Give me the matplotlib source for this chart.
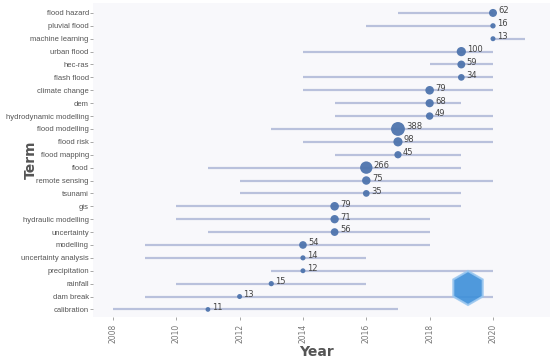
import matplotlib.pyplot as plt
import numpy as np
from matplotlib.patches import RegularPolygon

terms = ['flood hazard', 'pluvial flood', 'machine learning', 'urban flood', 'hec-ras',
         'flash flood', 'climate change', 'dem', 'hydrodynamic modelling', 'flood modelling',
         'flood risk', 'flood mapping', 'flood', 'remote sensing', 'tsunami', 'gis',
         'hydraulic modelling', 'uncertainty', 'modelling', 'uncertainty analysis',
         'precipitation', 'rainfall', 'dam break', 'calibration']
start_year = [2017, 2016, 2020, 2014, 2018, 2014, 2014, 2015, 2015, 2013, 2014, 2015, 2011,
              2012, 2012, 2010, 2010, 2011, 2009, 2009, 2013, 2010, 2009, 2008]
end_year = [2020, 2020, 2021, 2020, 2020, 2020, 2020, 2019, 2020, 2020, 2020, 2019, 2019,
            2020, 2019, 2019, 2018, 2018, 2018, 2016, 2020, 2016, 2020, 2017]
median_year = [2020, 2020, 2020, 2019, 2019, 2019, 2018, 2018, 2018, 2017, 2017, 2017, 2016,
               2016, 2016, 2015, 2015, 2015, 2014, 2014, 2014, 2013, 2012, 2011]
freq = [62, 16, 13, 100, 59, 34, 79, 68, 49, 388, 98, 45, 266, 75, 35, 79, 71, 56, 54, 14,
        12, 15, 13, 11]

y = np.arange(len(terms))
freq = np.array(freq)
diam = 5 * (freq / 13) ** 0.3 * 0.72  # points
sizes = diam ** 2

fig = plt.figure(figsize=(5.5, 3.6), dpi=100)
ax = fig.add_axes([0.169, 0.119, 0.831, 0.873])
ax.set_facecolor('#f8f8fb')
for s in ax.spines.values():
    s.set_visible(False)

ax.hlines(y, start_year, end_year, color='#b3bbd9', lw=1.6, alpha=0.9, zorder=1)
ax.scatter(median_year, y, s=sizes, color='#4e74ad', alpha=0.95, zorder=2, edgecolors='none')
for xi, yi, f, d in zip(median_year, y, freq, diam):
    ax.annotate(str(f), (xi, yi), xytext=(d / 2 + 1, 1.5), textcoords='offset points',
                fontsize=6, color='#444444', va='center', ha='left')

ax.set_xlim(2007.37, 2021.8)
ax.set_ylim(23.6, -0.78)
ax.set_yticks(y)
ax.set_yticklabels(terms, fontsize=5.5, color='#555555', family='Liberation Sans')
ax.set_xticks(range(2008, 2021, 2))
ax.set_xticklabels([str(v) for v in range(2008, 2021, 2)], rotation=90, fontsize=5.5, color='#777777')
ax.tick_params(axis='both', length=2, width=0.6, color='#999999', pad=1)
ax.tick_params(axis='x', pad=3)
ax.set_xlabel('Year', fontsize=10, fontweight='bold', color='#555555')
ax.set_ylabel('Term', fontsize=10, fontweight='bold', color='#555555')
ax.xaxis.set_label_coords(0.49, -0.088)
ax.yaxis.set_label_coords(-0.12, 0.5)

# watermark logo
hexagon = RegularPolygon((468, 72), numVertices=6, radius=17, orientation=0,
                         transform=None, facecolor='#3d8fd9', edgecolor='#9cc8f0', lw=1.5,
                         alpha=0.9, zorder=5)
fig.patches.append(hexagon)

plt.savefig('out.png', dpi=100)
